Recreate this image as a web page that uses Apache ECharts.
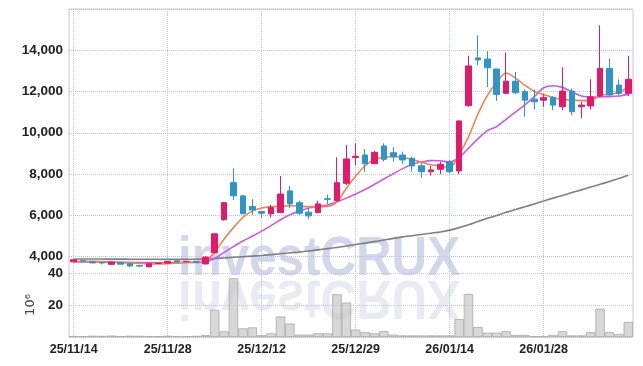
<!DOCTYPE html>
<html>
<head>
<meta charset="utf-8">
<script src="https://cdn.jsdelivr.net/npm/echarts@6/dist/echarts.min.js"></script>
<style>
html,body{margin:0;padding:0;background:#fff;}
#chart{width:643px;height:366px;}
</style>
</head>
<body>
<div id="chart"></div>
<script>
var dates = ['25/11/14','25/11/17','25/11/18','25/11/19','25/11/20','25/11/21','25/11/24','25/11/25','25/11/26','25/11/27',
'25/11/28','25/12/01','25/12/02','25/12/03','25/12/04','25/12/05','25/12/08','25/12/09','25/12/10','25/12/11',
'25/12/12','25/12/15','25/12/16','25/12/17','25/12/18','25/12/19','25/12/22','25/12/23','25/12/24','25/12/26',
'25/12/29','25/12/30','26/01/02','26/01/05','26/01/06','26/01/07','26/01/08','26/01/09','26/01/12','26/01/13',
'26/01/14','26/01/15','26/01/16','26/01/19','26/01/20','26/01/21','26/01/22','26/01/23','26/01/26','26/01/27',
'26/01/28','26/01/29','26/01/30','26/02/02','26/02/03','26/02/04','26/02/05','26/02/06','26/02/09','26/02/10'];

var opens  = [3745,3800,3740,3700,3620,3710,3650,3560,3500,3660, 3680,3790,3750,3760,3640,4190,5780,7580,6940,6420,
6180,6070,6130,7180,6610,6150,6130,6800,6710,7550, 8800,8920,8500,9360,9030,8920,8760,8400,8110,8230,
8600,8150,11310,13630,13570,13090,11910,12500,11990,11630, 11580,11720,11260,12020,11260,11300,11780,13120,12310,11910];
var closes = [3840,3780,3690,3690,3730,3630,3540,3540,3650,3680, 3760,3750,3760,3720,3970,5100,6610,6940,6070,6260,
6100,6370,7030,6550,6100,5970,6550,6770,7580,8730, 8860,8500,9050,8710,8830,8680,8390,8110,8200,8470,
8110,10570,13240,13530,13150,11860,12500,11940,11580,11500, 11700,11340,12020,11020,11340,11740,13120,11830,11910,12590];
var lows   = [3720,3750,3670,3620,3600,3610,3520,3480,3480,3630, 3660,3730,3720,3700,3620,4150,5740,6740,6050,6020,
5860,5900,6100,6340,6020,5810,6100,6550,6660,7470, 8440,8110,8480,8600,8600,8470,8110,7820,7920,7990,
8040,7990,11260,13280,12220,11540,11900,11870,10780,11130, 11260,11100,11100,10860,10700,11130,11740,11740,11830,11780];
var highs  = [3860,3830,3760,3740,3750,3730,3670,3600,3670,3710, 3780,3810,3790,3780,4010,5130,6650,8280,6960,6780,
6220,6500,7900,7420,6710,6340,6700,7000,8810,9400, 9490,9210,9120,9490,9300,9080,8840,8520,8390,8600,
8680,10600,13730,14730,13950,13100,13890,12950,12100,12100, 11870,11780,13170,12150,11500,12590,15210,13600,12590,13710];

var ma5  = [3760,3770,3765,3750,3730,3710,3690,3670,3650,3640, 3650,3680,3710,3720,3790,4200,4850,5400,5900,6200,
6350,6420,6430,6460,6440,6420,6420,6430,6650,7300, 7900,8400,8700,8820,8850,8800,8700,8570,8450,8400,
8300,8950,9800,10900,11800,12450,12900,12650,12300,12000, 11850,11700,11620,11580,11560,11560,11800,11880,11950,12250];
var ma20 = [3740,3740,3735,3730,3725,3720,3715,3710,3705,3700, 3700,3705,3710,3715,3740,3900,4200,4480,4750,4980,
5230,5500,5780,6020,6200,6350,6430,6500,6650,6830, 7030,7250,7500,7760,8010,8260,8470,8580,8650,8640,
8580,8800,9250,9700,10100,10300,10650,11000,11350,11750, 12180,12280,12200,11980,11780,11730,11740,11750,11780,11860];
var ma60 = [3880,3880,3878,3876,3874,3872,3870,3868,3866,3864, 3862,3862,3864,3868,3880,3900,3930,3960,3990,4020,
4050,4090,4130,4180,4220,4270,4320,4380,4440,4510, 4580,4650,4720,4800,4880,4950,5010,5070,5130,5190,
5280,5400,5540,5700,5850,5990,6140,6280,6410,6550, 6690,6830,6960,7100,7230,7370,7500,7640,7780,7940];

var volumes = [0.6,0.5,0.8,0.7,0.9,0.6,0.8,0.7,0.6,0.5, 0.8,0.6,0.5,0.7,1.2,17,3.6,36.7,5.4,6.0,
1.1,2.3,12.8,8.4,1.5,1.5,2.3,2.3,26.7,21.5, 4.6,3.0,2.3,3.6,1.5,1.0,1.0,1.0,1.0,1.0,
1.0,11.2,26.9,6.3,2.7,2.7,3.6,1.3,1.3,0.6, 0.6,1.3,3.6,1.0,1.0,3.0,17.7,3.0,1.9,9.4];

var priceTicks = [4000,6000,8000,10000,12000,14000];
var volumeTicks = [20,40];

var UP = '#e3196b', DOWN = '#2e95c8';
var FONT = '"Liberation Sans",Arial,sans-serif';
var GRIDC = '#bcc4dc';

var kdata = opens.map(function(o,i){ return [o, closes[i], lows[i], highs[i]]; });

function fmt(v){ return v.toString().replace(/\B(?=(\d{3})+(?!\d))/g, ','); }

var chart = echarts.init(document.getElementById('chart'), null, {renderer:'canvas'});
var option = {
  animation: false,
  backgroundColor: '#fff',
  grid: [
    {left:69, right:10, top:9, height:264},
    {left:69, right:10, top:273, height:64},
    {left:69, right:10, top:9, height:247.5},
    {left:73.7, right:14.7, top:9, height:328},
    {left:69, right:10, top:9, height:328, show:true, borderColor:'#c8c8c8', borderWidth:1, backgroundColor:'transparent'}
  ],
  xAxis: [
    {gridIndex:0, type:'category', data:dates, boundaryGap:true, show:false},
    {gridIndex:1, type:'category', data:dates, boundaryGap:true, show:false},
    {gridIndex:2, type:'category', data:dates, boundaryGap:true, show:false},
    {gridIndex:3, type:'category', data:dates, boundaryGap:false,
      axisLine:{show:false}, axisTick:{show:false},
      axisLabel:{interval:9, fontFamily:FONT, fontWeight:'bold', fontSize:12.5, color:'#222', margin:6},
      splitLine:{show:true, interval:9, lineStyle:{color:GRIDC, type:'dotted', width:1}}},
    {gridIndex:4, type:'category', data:dates, show:false}
  ],
  yAxis: [
    {gridIndex:0, type:'value', min:3200, max:16000, show:false},
    {gridIndex:1, type:'value', min:0, max:40, interval:20,
      axisLine:{show:false}, axisTick:{show:false},
      axisLabel:{fontFamily:FONT, fontWeight:'bold', fontSize:13.5, color:'#222', margin:6,
        formatter:function(v){ return volumeTicks.indexOf(v) >= 0 ? String(v) : ''; }},
      splitLine:{show:true, lineStyle:{color:GRIDC, type:'dotted', width:1}},
      name:'10⁶', nameLocation:'middle', nameGap:31, nameRotate:90,
      nameTextStyle:{fontFamily:'"DejaVu Sans",sans-serif', fontSize:13, color:'#444'}},
    {gridIndex:2, type:'value', min:4000, max:16000, interval:2000,
      axisLine:{show:false}, axisTick:{show:false},
      axisLabel:{fontFamily:FONT, fontWeight:'bold', fontSize:13.5, color:'#222', margin:6,
        formatter:function(v){ return priceTicks.indexOf(v) >= 0 ? fmt(v) : ''; }},
      splitLine:{show:true, lineStyle:{color:GRIDC, type:'dotted', width:1}}},
    {gridIndex:3, type:'value', show:false},
    {gridIndex:4, type:'value', show:false}
  ],
  graphic: [
    {type:'text', x:178, y:232, z:-10, scaleX:0.88,
      style:{text:'investCRUX', font:'bold 56px "Liberation Sans",sans-serif', fill:'rgba(165,176,214,0.5)', verticalAlign:'top'}},
    {type:'text', x:178, y:232, z:-10, scaleX:0.88, scaleY:-1, originY:46,
      style:{text:'investCRUX', font:'bold 56px "Liberation Sans",sans-serif', fill:'rgba(195,195,218,0.35)', verticalAlign:'top'}}
  ],
  series: [
    {type:'bar', xAxisIndex:1, yAxisIndex:1, data:volumes, barCategoryGap:'0%',
      itemStyle:{color:'rgba(200,200,200,0.7)', borderColor:'#aaaaaa', borderWidth:0.8}, z:2},
    {type:'line', xAxisIndex:0, yAxisIndex:0, data:ma60, symbol:'none', smooth:0.3,
      lineStyle:{color:'#808080', width:1.6}, z:3},
    {type:'line', xAxisIndex:0, yAxisIndex:0, data:ma20, symbol:'none', smooth:0.3,
      lineStyle:{color:'#c95ae8', width:1.6}, z:3},
    {type:'line', xAxisIndex:0, yAxisIndex:0, data:ma5, symbol:'none', smooth:0.3,
      lineStyle:{color:'#f0854c', width:1.6}, z:3},
    {type:'candlestick', xAxisIndex:0, yAxisIndex:0, data:kdata, barWidth:6,
      itemStyle:{color:UP, color0:DOWN, borderColor:UP, borderColor0:DOWN, borderWidth:1}, z:4}
  ]
};
chart.setOption(option);
</script>
</body>
</html>
